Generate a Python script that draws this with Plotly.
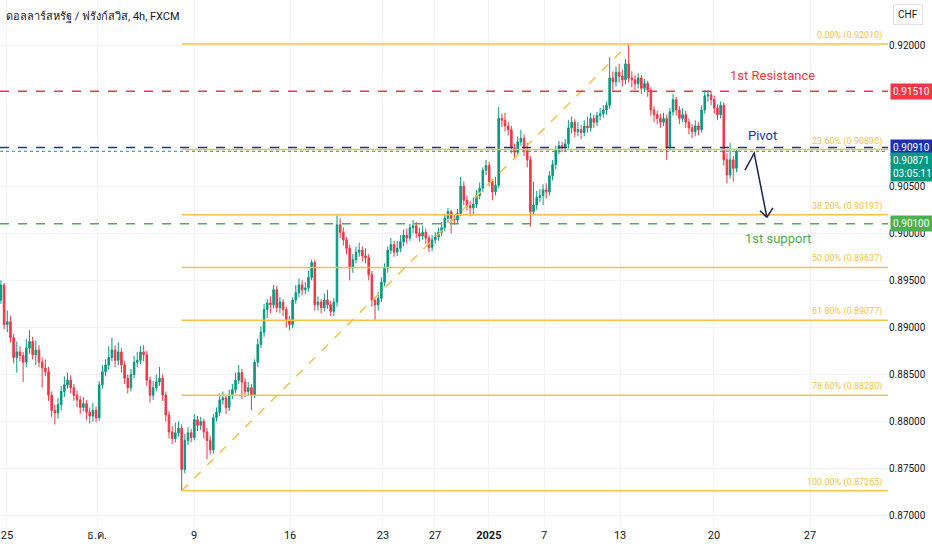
import plotly.graph_objects as go

title_text = "ดอลลาร์สหรัฐ / ฟรังก์สวิส, 4h, FXCM"

# 4h candles, one entry per bar (index = bar number)
opens = [
    0.8929, 0.8945, 0.8903, 0.8906, 0.8889, 0.8868, 0.8874, 0.8870, 0.8863, 0.8878,
    0.8885, 0.8871, 0.8876, 0.8863, 0.8857, 0.8853, 0.8828, 0.8812, 0.8809, 0.8818,
    0.8832, 0.8839, 0.8844, 0.8836, 0.8828, 0.8823, 0.8815, 0.8819, 0.8810, 0.8806,
    0.8812, 0.8804, 0.8839, 0.8853, 0.8860, 0.8868, 0.8876, 0.8865, 0.8874, 0.8860,
    0.8846, 0.8836, 0.8850, 0.8863, 0.8865, 0.8874, 0.8871, 0.8844, 0.8828, 0.8836,
    0.8842, 0.8846, 0.8828, 0.8807, 0.8789, 0.8782, 0.8788, 0.8793, 0.8749, 0.8780,
    0.8788, 0.8783, 0.8802, 0.8796, 0.8800, 0.8789, 0.8780, 0.8770, 0.8804, 0.8810,
    0.8823, 0.8825, 0.8815, 0.8828, 0.8834, 0.8844, 0.8852, 0.8842, 0.8832, 0.8836,
    0.8828, 0.8863, 0.8882, 0.8895, 0.8919, 0.8926, 0.8924, 0.8940, 0.8921, 0.8927,
    0.8919, 0.8908, 0.8903, 0.8929, 0.8937, 0.8945, 0.8940, 0.8942, 0.8953, 0.8969,
    0.8924, 0.8927, 0.8921, 0.8929, 0.8924, 0.8917, 0.8927, 0.9009, 0.9001, 0.8993,
    0.8984, 0.8963, 0.8972, 0.8980, 0.8982, 0.8976, 0.8974, 0.8956, 0.8929, 0.8924,
    0.8931, 0.8948, 0.8963, 0.8982, 0.8988, 0.8980, 0.8984, 0.8991, 0.8998, 0.8995,
    0.9006, 0.9008, 0.9000, 0.8997, 0.9001, 0.8995, 0.8985, 0.8993, 0.8996, 0.9001,
    0.9006, 0.9016, 0.9023, 0.9016, 0.9014, 0.9021, 0.9050, 0.9035, 0.9029, 0.9027,
    0.9031, 0.9040, 0.9048, 0.9067, 0.9072, 0.9055, 0.9044, 0.9051, 0.9122, 0.9120,
    0.9114, 0.9110, 0.9091, 0.9086, 0.9097, 0.9101, 0.9088, 0.9078, 0.9023, 0.9030,
    0.9038, 0.9040, 0.9046, 0.9044, 0.9061, 0.9073, 0.9088, 0.9093, 0.9091, 0.9095,
    0.9112, 0.9118, 0.9108, 0.9110, 0.9107, 0.9114, 0.9112, 0.9122, 0.9118, 0.9125,
    0.9127, 0.9131, 0.9136, 0.9165, 0.9161, 0.9171, 0.9167, 0.9163, 0.9180, 0.9165,
    0.9163, 0.9159, 0.9165, 0.9154, 0.9159, 0.9152, 0.9131, 0.9126, 0.9122, 0.9118,
    0.9122, 0.9091, 0.9129, 0.9142, 0.9131, 0.9122, 0.9126, 0.9118, 0.9112, 0.9108,
    0.9114, 0.9110, 0.9131, 0.9146, 0.9147, 0.9142, 0.9133, 0.9126, 0.9136, 0.9078,
    0.9062, 0.9078, 0.9069,
]
highs = [
    0.8950, 0.8947, 0.8918, 0.8912, 0.8893, 0.8885, 0.8880, 0.8874, 0.8888, 0.8897,
    0.8890, 0.8886, 0.8881, 0.8868, 0.8866, 0.8858, 0.8832, 0.8818, 0.8825, 0.8838,
    0.8848, 0.8852, 0.8849, 0.8840, 0.8833, 0.8827, 0.8826, 0.8823, 0.8815, 0.8820,
    0.8816, 0.8843, 0.8860, 0.8866, 0.8880, 0.8889, 0.8881, 0.8884, 0.8878, 0.8864,
    0.8850, 0.8856, 0.8870, 0.8874, 0.8880, 0.8881, 0.8875, 0.8848, 0.8843, 0.8850,
    0.8858, 0.8850, 0.8832, 0.8811, 0.8795, 0.8799, 0.8800, 0.8797, 0.8787, 0.8794,
    0.8792, 0.8808, 0.8806, 0.8805, 0.8803, 0.8793, 0.8785, 0.8808, 0.8815, 0.8830,
    0.8832, 0.8828, 0.8834, 0.8840, 0.8852, 0.8860, 0.8856, 0.8846, 0.8842, 0.8840,
    0.8866, 0.8888, 0.8901, 0.8925, 0.8930, 0.8933, 0.8945, 0.8944, 0.8932, 0.8930,
    0.8922, 0.8912, 0.8932, 0.8945, 0.8952, 0.8950, 0.8948, 0.8960, 0.8972, 0.8972,
    0.8933, 0.8930, 0.8936, 0.8940, 0.8928, 0.8931, 0.9019, 0.9016, 0.9006, 0.8996,
    0.8988, 0.8978, 0.8986, 0.8990, 0.8986, 0.8984, 0.8978, 0.8960, 0.8932, 0.8938,
    0.8953, 0.8968, 0.8986, 0.8995, 0.8992, 0.8992, 0.8998, 0.9004, 0.9005, 0.9010,
    0.9014, 0.9012, 0.9006, 0.9008, 0.9005, 0.8998, 0.8998, 0.9001, 0.9006, 0.9012,
    0.9020, 0.9027, 0.9025, 0.9020, 0.9026, 0.9060, 0.9055, 0.9040, 0.9034, 0.9038,
    0.9046, 0.9054, 0.9070, 0.9078, 0.9076, 0.9058, 0.9060, 0.9134, 0.9127, 0.9128,
    0.9118, 0.9114, 0.9095, 0.9103, 0.9110, 0.9105, 0.9096, 0.9082, 0.9055, 0.9045,
    0.9047, 0.9052, 0.9053, 0.9066, 0.9078, 0.9093, 0.9098, 0.9097, 0.9100, 0.9120,
    0.9124, 0.9121, 0.9118, 0.9115, 0.9120, 0.9124, 0.9128, 0.9126, 0.9129, 0.9133,
    0.9136, 0.9140, 0.9187, 0.9172, 0.9177, 0.9180, 0.9174, 0.9185, 0.9201, 0.9172,
    0.9168, 0.9170, 0.9168, 0.9164, 0.9162, 0.9155, 0.9135, 0.9130, 0.9127, 0.9128,
    0.9126, 0.9133, 0.9148, 0.9145, 0.9135, 0.9133, 0.9130, 0.9122, 0.9116, 0.9120,
    0.9118, 0.9136, 0.9152, 0.9152, 0.9151, 0.9146, 0.9137, 0.9140, 0.9139, 0.9085,
    0.9096, 0.9082, 0.9090,
]
lows = [
    0.8925, 0.8898, 0.8895, 0.8884, 0.8862, 0.8852, 0.8864, 0.8842, 0.8858, 0.8872,
    0.8866, 0.8860, 0.8858, 0.8836, 0.8848, 0.8822, 0.8805, 0.8797, 0.8803, 0.8812,
    0.8826, 0.8835, 0.8830, 0.8822, 0.8815, 0.8808, 0.8811, 0.8802, 0.8798, 0.8800,
    0.8799, 0.8801, 0.8835, 0.8848, 0.8855, 0.8864, 0.8858, 0.8860, 0.8852, 0.8840,
    0.8830, 0.8832, 0.8846, 0.8858, 0.8861, 0.8864, 0.8838, 0.8820, 0.8823, 0.8832,
    0.8838, 0.8822, 0.8800, 0.8782, 0.8776, 0.8778, 0.8784, 0.87265, 0.8745, 0.8775,
    0.8778, 0.8780, 0.8790, 0.8791, 0.8782, 0.8760, 0.8765, 0.8766, 0.8800, 0.8806,
    0.8818, 0.8808, 0.8811, 0.8824, 0.8830, 0.8840, 0.8824, 0.8826, 0.8828, 0.8812,
    0.8825, 0.8858, 0.8878, 0.8890, 0.8910, 0.8915, 0.8920, 0.8916, 0.8915, 0.8912,
    0.8900, 0.8897, 0.8899, 0.8925, 0.8932, 0.8934, 0.8935, 0.8938, 0.8950, 0.8918,
    0.8918, 0.8915, 0.8917, 0.8920, 0.8912, 0.8912, 0.8922, 0.8995, 0.8987, 0.8978,
    0.8950, 0.8958, 0.8968, 0.8975, 0.8970, 0.8968, 0.8950, 0.8922, 0.8908, 0.8918,
    0.8927, 0.8944, 0.8958, 0.8978, 0.8975, 0.8976, 0.8980, 0.8986, 0.8989, 0.8992,
    0.9000, 0.8995, 0.8991, 0.8993, 0.8989, 0.8980, 0.8981, 0.8989, 0.8992, 0.8997,
    0.9002, 0.9011, 0.9000, 0.9009, 0.9010, 0.9018, 0.9030, 0.9024, 0.9018, 0.9020,
    0.9027, 0.9036, 0.9044, 0.9062, 0.9050, 0.9035, 0.9040, 0.9048, 0.9113, 0.9108,
    0.9104, 0.9085, 0.9080, 0.9082, 0.9093, 0.9082, 0.9070, 0.9007, 0.9020, 0.9025,
    0.9033, 0.9030, 0.9037, 0.9040, 0.9056, 0.9068, 0.9084, 0.9086, 0.9087, 0.9090,
    0.9106, 0.9102, 0.9103, 0.9100, 0.9103, 0.9107, 0.9108, 0.9112, 0.9114, 0.9120,
    0.9123, 0.9126, 0.9132, 0.9152, 0.9156, 0.9160, 0.9156, 0.9158, 0.9160, 0.9155,
    0.9152, 0.9154, 0.9148, 0.9150, 0.9145, 0.9125, 0.9118, 0.9116, 0.9112, 0.9114,
    0.9078, 0.9088, 0.9125, 0.9125, 0.9116, 0.9118, 0.9112, 0.9105, 0.9101, 0.9103,
    0.9104, 0.9107, 0.9127, 0.9140, 0.9136, 0.9127, 0.9120, 0.9122, 0.9072, 0.9053,
    0.9058, 0.9055, 0.9065,
]
closes = [
    0.8945, 0.8903, 0.8906, 0.8889, 0.8868, 0.8874, 0.8870, 0.8863, 0.8878, 0.8885,
    0.8871, 0.8876, 0.8863, 0.8857, 0.8853, 0.8828, 0.8812, 0.8809, 0.8818, 0.8832,
    0.8839, 0.8844, 0.8836, 0.8828, 0.8823, 0.8815, 0.8819, 0.8810, 0.8806, 0.8812,
    0.8804, 0.8839, 0.8853, 0.8860, 0.8868, 0.8876, 0.8865, 0.8874, 0.8860, 0.8846,
    0.8836, 0.8850, 0.8863, 0.8865, 0.8874, 0.8871, 0.8844, 0.8828, 0.8836, 0.8842,
    0.8846, 0.8828, 0.8807, 0.8789, 0.8782, 0.8788, 0.8793, 0.8749, 0.8780, 0.8788,
    0.8783, 0.8802, 0.8796, 0.8800, 0.8789, 0.8780, 0.8770, 0.8804, 0.8810, 0.8823,
    0.8825, 0.8815, 0.8828, 0.8834, 0.8844, 0.8852, 0.8842, 0.8832, 0.8836, 0.8828,
    0.8863, 0.8882, 0.8895, 0.8919, 0.8926, 0.8924, 0.8940, 0.8921, 0.8927, 0.8919,
    0.8908, 0.8903, 0.8929, 0.8937, 0.8945, 0.8940, 0.8942, 0.8953, 0.8969, 0.8924,
    0.8927, 0.8921, 0.8929, 0.8924, 0.8917, 0.8927, 0.9009, 0.9001, 0.8993, 0.8984,
    0.8963, 0.8972, 0.8980, 0.8982, 0.8976, 0.8974, 0.8956, 0.8929, 0.8924, 0.8931,
    0.8948, 0.8963, 0.8982, 0.8988, 0.8980, 0.8984, 0.8991, 0.8998, 0.8995, 0.9006,
    0.9008, 0.9000, 0.8997, 0.9001, 0.8995, 0.8985, 0.8993, 0.8996, 0.9001, 0.9006,
    0.9016, 0.9023, 0.9016, 0.9014, 0.9021, 0.9050, 0.9035, 0.9029, 0.9027, 0.9031,
    0.9040, 0.9048, 0.9067, 0.9072, 0.9055, 0.9044, 0.9051, 0.9122, 0.9120, 0.9114,
    0.9110, 0.9091, 0.9086, 0.9097, 0.9101, 0.9088, 0.9078, 0.9023, 0.9030, 0.9038,
    0.9040, 0.9046, 0.9044, 0.9061, 0.9073, 0.9088, 0.9093, 0.9091, 0.9095, 0.9112,
    0.9118, 0.9108, 0.9110, 0.9107, 0.9114, 0.9112, 0.9122, 0.9118, 0.9125, 0.9127,
    0.9131, 0.9136, 0.9165, 0.9161, 0.9171, 0.9167, 0.9163, 0.9180, 0.9165, 0.9163,
    0.9159, 0.9165, 0.9154, 0.9159, 0.9152, 0.9131, 0.9126, 0.9122, 0.9118, 0.9122,
    0.9091, 0.9129, 0.9142, 0.9131, 0.9122, 0.9126, 0.9118, 0.9112, 0.9108, 0.9114,
    0.9110, 0.9131, 0.9146, 0.9147, 0.9142, 0.9133, 0.9126, 0.9136, 0.9078, 0.9062,
    0.9078, 0.9069, 0.90871,
]
bars = list(range(len(closes)))

# x-axis labels (bar index where each date starts)
date_ticks = [1.9, 30.3, 60.9, 91.2, 120.5, 136.9, 153.9, 171.3, 195.3, 224.9, 255.2]
date_labels = ["25", "ธ.ค.", "9", "16", "23", "27", "<b>2025</b>", "7", "13", "20", "27"]

# price-scale labels (0.910 / 0.915 sit under the level tags)
price_ticks = [0.870, 0.875, 0.880, 0.885, 0.890, 0.895, 0.900, 0.905, 0.920]

# fibonacci retracement from swing low (bar 57) to swing high (bar 198)
fib_start, fib_end = 57, 198
fib_pcts = ["0.00%", "23.60%", "38.20%", "50.00%", "61.80%", "78.60%", "100.00%"]
fib_prices = [0.92010, 0.90890, 0.90197, 0.89637, 0.89077, 0.88280, 0.87265]

resistance = 0.91510
pivot = 0.90910
support = 0.90100
last_price = 0.90871
countdown = "03:05:11"

# hand-drawn projection arrow (bar, price)
arrow_x = [234.7, 237.6, 241.6]
arrow_y = [0.9067, 0.9085, 0.9017]
head_x = [239.4, 243.5]
head_y = [0.9024, 0.9027]

GREEN = "#089981"
RED = "#f23645"
BLUE = "#1e2fb0"
SUP = "#4caf50"
FIB = "#f7c243"
TXT = "#131722"
ARROW = "#1a2550"
FONT = "Roboto, 'Noto Sans', sans-serif"

x_min, x_max = -0.3, 279.8
y_min, y_max = 0.8688, 0.92478

fig = go.Figure()
fig.add_trace(
    go.Candlestick(
        x=bars,
        open=opens,
        high=highs,
        low=lows,
        close=closes,
        increasing=dict(line=dict(color=GREEN, width=1), fillcolor=GREEN),
        decreasing=dict(line=dict(color=RED, width=1), fillcolor=RED),
        whiskerwidth=0,
        hoverinfo="skip",
        showlegend=False,
    )
)

shapes = []
for p in fib_prices:
    shapes.append(dict(type="line", xref="x", yref="y", x0=fib_start, x1=x_max,
                       y0=p, y1=p, line=dict(color=FIB, width=1.5)))
shapes.append(dict(type="line", xref="x", yref="y", x0=fib_start, x1=fib_end,
                   y0=fib_prices[-1], y1=fib_prices[0],
                   line=dict(color=FIB, width=1.5, dash="dash")))
for lvl, col in [(resistance, RED), (pivot, BLUE), (support, SUP)]:
    shapes.append(dict(type="line", xref="paper", yref="y", x0=0, x1=1,
                       y0=lvl, y1=lvl, line=dict(color=col, width=1.5, dash="dash")))
shapes.append(dict(type="line", xref="paper", yref="y", x0=0, x1=1,
                   y0=last_price, y1=last_price, line=dict(color=GREEN, width=1, dash="dot")))

path = "M {},{} L {},{} L {},{}".format(arrow_x[0], arrow_y[0], arrow_x[1], arrow_y[1],
                                         arrow_x[2], arrow_y[2])
shapes.append(dict(type="path", xref="x", yref="y", path=path,
                   line=dict(color=ARROW, width=1.5)))
for hx, hy in zip(head_x, head_y):
    shapes.append(dict(type="line", xref="x", yref="y", x0=hx, y0=hy,
                       x1=arrow_x[2], y1=arrow_y[2], line=dict(color=ARROW, width=1.5)))

annotations = [
    dict(text=title_text, xref="paper", yref="paper", x=0.004, y=0.985,
         xanchor="left", yanchor="top", showarrow=False,
         font=dict(size=11, color=TXT, family=FONT)),
    dict(text="CHF", xref="paper", yref="paper", x=1.006, y=0.992,
         xanchor="left", yanchor="top", showarrow=False,
         font=dict(size=10, color=TXT, family=FONT),
         bgcolor="white", bordercolor="#e0e3eb", borderwidth=1, borderpad=4),
]
for pct, p in zip(fib_pcts, fib_prices):
    annotations.append(dict(text=f"{pct} ({p:.5f})", xref="paper", yref="y",
                            x=0.996, y=p, xanchor="right", yanchor="bottom",
                            yshift=1, showarrow=False,
                            font=dict(size=9, color=FIB, family=FONT)))

annotations += [
    dict(text="1st Resistance", xref="x", yref="y", x=243.5, y=0.9168,
         showarrow=False, font=dict(size=13, color=RED, family=FONT)),
    dict(text="Pivot", xref="x", yref="y", x=240.3, y=0.9104,
         showarrow=False, font=dict(size=13, color=BLUE, family=FONT)),
    dict(text="1st support", xref="x", yref="y", x=245.1, y=0.8994,
         showarrow=False, font=dict(size=13, color=SUP, family=FONT)),
]

# price tags on the right axis
for lvl, col, txt, anchor in [
    (resistance, RED, f"{resistance:.5f}", "middle"),
    (pivot, BLUE, f"{pivot:.5f}", "middle"),
    (last_price, GREEN, f"{last_price:.5f}<br>{countdown}", "top"),
    (support, SUP, f"{support:.5f}", "middle"),
]:
    annotations.append(dict(text=txt, xref="paper", yref="y", x=1.002, y=lvl,
                            xanchor="left", yanchor=anchor,
                            yshift=-1 if anchor == "top" else 0,
                            showarrow=False, align="left", bgcolor=col,
                            borderpad=2, font=dict(size=10, color="white", family=FONT)))

fig.update_layout(
    width=932,
    height=550,
    margin=dict(l=0, r=44, t=0, b=23),
    paper_bgcolor="white",
    plot_bgcolor="white",
    shapes=shapes,
    annotations=annotations,
    font=dict(family=FONT, color=TXT, size=11),
    xaxis=dict(
        range=[x_min, x_max],
        rangeslider=dict(visible=False),
        tickmode="array",
        tickvals=date_ticks,
        ticktext=date_labels,
        showgrid=True,
        gridcolor="#f0f3fa",
        zeroline=False,
        showline=False,
        ticks="",
        tickfont=dict(size=11, color=TXT),
    ),
    yaxis=dict(
        range=[y_min, y_max],
        side="right",
        tickmode="array",
        tickvals=price_ticks,
        tickformat=".5f",
        showgrid=True,
        gridcolor="#f0f3fa",
        zeroline=False,
        showline=False,
        ticks="",
        tickfont=dict(size=10, color=TXT),
    ),
)

fig.write_html(
    "out.html",
    config={"displayModeBar": False},
    post_script="document.body.style.margin='0px';",
)
